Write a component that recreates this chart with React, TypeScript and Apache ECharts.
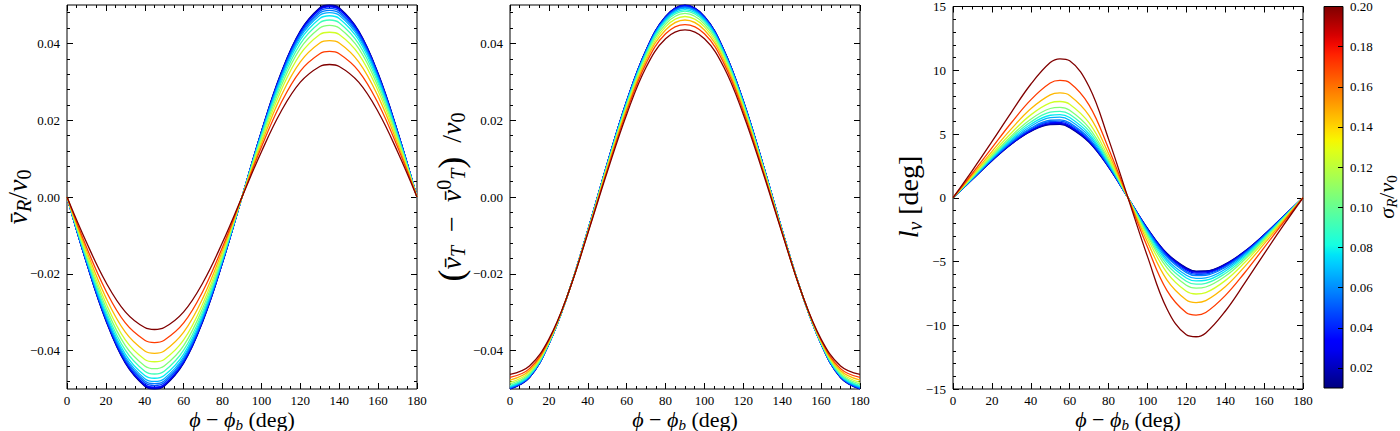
import React, { useEffect, useRef } from "react";
import * as echarts from "echarts";

// ---------------- data ----------------
const sigmaValues = [0.01, 0.0188, 0.0257, 0.0353, 0.0483, 0.0566, 0.0663, 0.0776, 0.0909, 0.1064, 0.1246, 0.1459, 0.1708, 0.2];

const phiR = [0, 10, 20, 30, 40, 45, 50, 60, 70, 80, 90, 100, 110, 120, 130, 135, 140, 150, 160, 170, 180];
const phiT = [0, 10, 20, 30, 40, 50, 60, 70, 80, 90, 100, 110, 120, 130, 140, 150, 160, 170, 180];
const phiL = [0, 10, 20, 30, 40, 50, 55, 60, 70, 80, 90, 100, 110, 120, 125, 130, 140, 150, 160, 170, 180];

// mean radial velocity vR/v0, one row per sigma (low -> high)
const vR0 = [0, -.0171, -.0322, -.0433, -.0493, -.05, -.0493, -.0433, -.0322, -.0171, 0, .0171, .0322, .0433, .0493, .05, .0493, .0433, .0322, .0171, 0];
const vR1 = [0, -.017, -.032, -.0431, -.0491, -.0498, -.0491, -.0431, -.032, -.017, 0, .017, .032, .0431, .0491, .0498, .0491, .0431, .032, .017, 0];
const vR2 = [0, -.017, -.032, -.043, -.049, -.0497, -.049, -.043, -.032, -.017, 0, .017, .032, .043, .049, .0497, .049, .043, .032, .017, 0];
const vR3 = [0, -.0169, -.0318, -.0429, -.0488, -.0495, -.0488, -.0429, -.0318, -.0169, 0, .0169, .0318, .0429, .0488, .0495, .0488, .0429, .0318, .0169, 0];
const vR4 = [0, -.0168, -.0316, -.0425, -.0484, -.0491, -.0484, -.0425, -.0316, -.0168, 0, .0168, .0316, .0425, .0484, .0491, .0484, .0425, .0316, .0168, 0];
const vR5 = [0, -.0166, -.0312, -.0421, -.0479, -.0486, -.0479, -.0421, -.0312, -.0166, 0, .0166, .0312, .0421, .0479, .0486, .0479, .0421, .0312, .0166, 0];
const vR6 = [0, -.0164, -.0309, -.0416, -.0473, -.048, -.0473, -.0416, -.0309, -.0164, 0, .0164, .0309, .0416, .0473, .048, .0473, .0416, .0309, .0164, 0];
const vR7 = [0, -.0161, -.0303, -.0409, -.0465, -.0472, -.0465, -.0409, -.0303, -.0161, 0, .0161, .0303, .0409, .0465, .0472, .0465, .0409, .0303, .0161, 0];
const vR8 = [0, -.0158, -.0296, -.0399, -.0454, -.0461, -.0454, -.0399, -.0296, -.0158, 0, .0158, .0296, .0399, .0454, .0461, .0454, .0399, .0296, .0158, 0];
const vR9 = [0, -.0153, -.0287, -.0387, -.044, -.0447, -.044, -.0387, -.0287, -.0153, 0, .0153, .0287, .0387, .044, .0447, .044, .0387, .0287, .0153, 0];
const vR10 = [0, -.0147, -.0276, -.0372, -.0423, -.0429, -.0423, -.0372, -.0276, -.0147, 0, .0147, .0276, .0372, .0423, .0429, .0423, .0372, .0276, .0147, 0];
const vR11 = [0, -.0139, -.0262, -.0352, -.0401, -.0407, -.0401, -.0352, -.0262, -.0139, 0, .0139, .0262, .0352, .0401, .0407, .0401, .0352, .0262, .0139, 0];
const vR12 = [0, -.013, -.0244, -.0328, -.0373, -.0379, -.0373, -.0328, -.0244, -.013, 0, .013, .0244, .0328, .0373, .0379, .0373, .0328, .0244, .013, 0];
const vR13 = [0, -.0118, -.0222, -.0299, -.034, -.0345, -.034, -.0299, -.0222, -.0118, 0, .0118, .0222, .0299, .034, .0345, .034, .0299, .0222, .0118, 0];
const vRRows = [vR0, vR1, vR2, vR3, vR4, vR5, vR6, vR7, vR8, vR9, vR10, vR11, vR12, vR13];

// mean tangential velocity offset (vT - vT0)/v0
const vT0 = [-.05, -.047, -.0383, -.025, -.0087, .0087, .025, .0383, .047, .05, .047, .0383, .025, .0087, -.0087, -.025, -.0383, -.047, -.05];
const vT1 = [-.05, -.047, -.0383, -.025, -.0087, .0087, .025, .0383, .0469, .0499, .0469, .0383, .025, .0087, -.0087, -.025, -.0383, -.047, -.05];
const vT2 = [-.0499, -.0469, -.0383, -.025, -.0087, .0087, .0249, .0382, .0469, .0499, .0469, .0382, .0249, .0087, -.0087, -.025, -.0383, -.0469, -.0499];
const vT3 = [-.0499, -.0469, -.0382, -.025, -.0087, .0086, .0249, .0381, .0468, .0498, .0468, .0381, .0249, .0086, -.0087, -.025, -.0382, -.0469, -.0499];
const vT4 = [-.0498, -.0468, -.0382, -.025, -.0088, .0086, .0248, .038, .0467, .0496, .0467, .038, .0248, .0086, -.0088, -.025, -.0382, -.0468, -.0498];
const vT5 = [-.0497, -.0467, -.0382, -.025, -.0088, .0085, .0247, .0379, .0465, .0494, .0465, .0379, .0247, .0085, -.0088, -.025, -.0382, -.0467, -.0497];
const vT6 = [-.0495, -.0466, -.0381, -.025, -.0088, .0084, .0245, .0377, .0463, .0492, .0463, .0377, .0245, .0084, -.0088, -.025, -.0381, -.0466, -.0495];
const vT7 = [-.0493, -.0465, -.0381, -.025, -.0088, .0083, .0244, .0375, .046, .0488, .046, .0375, .0244, .0083, -.0088, -.025, -.0381, -.0465, -.0493];
const vT8 = [-.0491, -.0463, -.038, -.025, -.0089, .0082, .0241, .0372, .0456, .0484, .0456, .0372, .0241, .0082, -.0089, -.025, -.038, -.0463, -.0491];
const vT9 = [-.0487, -.046, -.0379, -.025, -.009, .008, .0238, .0368, .045, .0478, .045, .0368, .0238, .008, -.009, -.025, -.0379, -.046, -.0487];
const vT10 = [-.0483, -.0456, -.0377, -.025, -.0091, .0077, .0234, .0362, .0443, .047, .0443, .0362, .0234, .0077, -.0091, -.025, -.0377, -.0456, -.0483];
const vT11 = [-.0477, -.0452, -.0375, -.025, -.0092, .0074, .0229, .0356, .0435, .0461, .0435, .0356, .0229, .0074, -.0092, -.025, -.0375, -.0452, -.0477];
const vT12 = [-.047, -.0447, -.0373, -.025, -.0093, .007, .0223, .0348, .0425, .0449, .0425, .0348, .0223, .007, -.0093, -.025, -.0373, -.0447, -.047];
const vT13 = [-.0462, -.044, -.037, -.025, -.0095, .0065, .0215, .0338, .0412, .0435, .0412, .0338, .0215, .0065, -.0095, -.025, -.037, -.044, -.0462];
const vTRows = [vT0, vT1, vT2, vT3, vT4, vT5, vT6, vT7, vT8, vT9, vT10, vT11, vT12, vT13];

// vertex deviation l_v (deg)
const lv0 = [0, 1.45, 2.9, 4.2, 5.2, 5.74, 5.75, 5.5, 4.35, 2.4, 0, -2.4, -4.35, -5.5, -5.75, -5.74, -5.2, -4.2, -2.9, -1.45, 0];
const lv1 = [0, 1.46, 2.91, 4.22, 5.23, 5.78, 5.79, 5.54, 4.39, 2.42, 0, -2.42, -4.39, -5.54, -5.79, -5.78, -5.23, -4.22, -2.91, -1.46, 0];
const lv2 = [0, 1.46, 2.93, 4.24, 5.26, 5.82, 5.84, 5.59, 4.42, 2.44, 0, -2.44, -4.42, -5.59, -5.84, -5.82, -5.26, -4.24, -2.93, -1.46, 0];
const lv3 = [0, 1.47, 2.95, 4.28, 5.31, 5.89, 5.91, 5.66, 4.48, 2.47, 0, -2.47, -4.48, -5.66, -5.91, -5.89, -5.31, -4.28, -2.95, -1.47, 0];
const lv4 = [0, 1.49, 2.98, 4.33, 5.39, 5.98, 6.01, 5.76, 4.57, 2.51, 0, -2.51, -4.57, -5.76, -6.01, -5.98, -5.39, -4.33, -2.98, -1.49, 0];
const lv5 = [0, 1.5, 3.01, 4.38, 5.46, 6.08, 6.11, 5.87, 4.66, 2.55, 0, -2.55, -4.66, -5.87, -6.11, -6.08, -5.46, -4.38, -3.01, -1.5, 0];
const lv6 = [0, 1.53, 3.07, 4.48, 5.61, 6.28, 6.32, 6.08, 4.83, 2.64, 0, -2.64, -4.83, -6.08, -6.32, -6.28, -5.61, -4.48, -3.07, -1.53, 0];
const lv7 = [0, 1.56, 3.13, 4.58, 5.76, 6.47, 6.52, 6.29, 5, 2.73, 0, -2.73, -5, -6.29, -6.52, -6.47, -5.76, -4.58, -3.13, -1.56, 0];
const lv8 = [0, 1.59, 3.2, 4.7, 5.94, 6.71, 6.78, 6.55, 5.22, 2.84, 0, -2.84, -5.22, -6.55, -6.78, -6.71, -5.94, -4.7, -3.2, -1.59, 0];
const lv9 = [0, 1.63, 3.29, 4.85, 6.16, 7, 7.09, 6.87, 5.48, 2.97, 0, -2.97, -5.48, -6.87, -7.09, -7, -6.16, -4.85, -3.29, -1.63, 0];
const lv10 = [0, 1.7, 3.43, 5.08, 6.5, 7.44, 7.55, 7.34, 5.87, 3.17, 0, -3.17, -5.87, -7.34, -7.55, -7.44, -6.5, -5.08, -3.43, -1.7, 0];
const lv11 = [0, 1.79, 3.62, 5.4, 6.98, 8.07, 8.22, 8.02, 6.44, 3.46, 0, -3.46, -6.44, -8.02, -8.22, -8.07, -6.98, -5.4, -3.62, -1.79, 0];
const lv12 = [0, 1.92, 3.91, 5.88, 7.68, 9, 9.2, 9.02, 7.27, 3.87, 0, -3.87, -7.27, -9.02, -9.2, -9, -7.68, -5.88, -3.91, -1.92, 0];
const lv13 = [0, 2.15, 4.4, 6.7, 8.9, 10.6, 10.9, 10.75, 8.7, 4.6, 0, -4.6, -8.7, -10.75, -10.9, -10.6, -8.9, -6.7, -4.4, -2.15, 0];
const lvRows = [lv0, lv1, lv2, lv3, lv4, lv5, lv6, lv7, lv8, lv9, lv10, lv11, lv12, lv13];

// tick values
const velMajorTicks = [-0.04, -0.02, 0, 0.02, 0.04];
const velMinorTicks = [-0.048, -0.044, -0.036, -0.032, -0.028, -0.024, -0.016, -0.012, -0.008, -0.004, 0.004, 0.008, 0.012, 0.016, 0.024, 0.028, 0.032, 0.036, 0.044, 0.048];
const colorbarTicks = [0.02, 0.04, 0.06, 0.08, 0.1, 0.12, 0.14, 0.16, 0.18, 0.2];
const sigmaMin = 0.01;
const sigmaMax = 0.2;

// ---------------- styling helpers ----------------
const SERIF = "'Liberation Serif', 'DejaVu Serif', serif";
const TICK_FONT = 13;

type Seg = number[][];
const JET_R: Seg = [[0, 0], [0.35, 0], [0.66, 1], [0.89, 1], [1, 0.5]];
const JET_G: Seg = [[0, 0], [0.125, 0], [0.375, 1], [0.64, 1], [0.91, 0], [1, 0]];
const JET_B: Seg = [[0, 0.5], [0.11, 1], [0.34, 1], [0.65, 0], [1, 0]];
function seg(s: Seg, t: number) {
  for (let i = 1; i < s.length; i++) {
    if (t <= s[i][0]) {
      const [x0, y0] = s[i - 1];
      const [x1, y1] = s[i];
      return y0 + ((t - x0) / (x1 - x0)) * (y1 - y0);
    }
  }
  return s[s.length - 1][1];
}
function jet(t: number) {
  const c = Math.max(0, Math.min(1, t));
  const r = Math.round(seg(JET_R, c) * 255);
  const g = Math.round(seg(JET_G, c) * 255);
  const b = Math.round(seg(JET_B, c) * 255);
  return `rgb(${r},${g},${b})`;
}
const sigmaColor = (s: number) => jet((s - sigmaMin) / (sigmaMax - sigmaMin));

const minus = (s: string) => s.replace("-", "\u2212");
const fmtVel = (v: number) => minus(Math.abs(v) < 1e-9 ? "0.00" : v.toFixed(2));
const fmtInt = (v: number) => minus(String(Math.round(v)));

function makeRich(F: number) {
  const base = { fontFamily: SERIF, color: "#000" };
  const lh = Math.round(F * 1.2);
  return {
    m: { ...base, fontStyle: "italic", fontSize: F, lineHeight: lh, verticalAlign: "middle" },
    r: { ...base, fontSize: F, lineHeight: lh, verticalAlign: "middle" },
    s: { ...base, fontStyle: "italic", fontSize: Math.round(F * 0.7), lineHeight: Math.round(F * 0.75), verticalAlign: "bottom" },
    sr: { ...base, fontSize: Math.round(F * 0.7), lineHeight: Math.round(F * 0.75), verticalAlign: "bottom" },
    p: { ...base, fontSize: Math.round(F * 0.7), lineHeight: Math.round(F * 0.75), verticalAlign: "top" },
    big: { ...base, fontSize: Math.round(F * 1.3), lineHeight: lh, verticalAlign: "middle" },
  };
}

const PANEL_LEFT = [67, 510, 953];
const PANEL_TOP = 5;
const PANEL_W = 350;
const PANEL_H = 384;

function buildOption() {
  const grid: any[] = [];
  const xAxis: any[] = [];
  const yAxis: any[] = [];
  const series: any[] = [];
  const tickLine = { color: "#000", width: 1 };
  const labelStyle = { color: "#000", fontSize: TICK_FONT, fontFamily: SERIF };
  const noLine = { show: false, onZero: false };

  const addX = (g: number, position: string, showLabel: boolean) => {
    xAxis.push({
      type: "value", gridIndex: g, position, min: 0, max: 180, interval: 20,
      axisLine: noLine, splitLine: { show: false },
      axisTick: { show: true, inside: true, length: 6, lineStyle: tickLine },
      minorTick: { show: true, splitNumber: 4, length: 3, lineStyle: tickLine },
      axisLabel: { show: showLabel, margin: 5, ...labelStyle },
    });
    return xAxis.length - 1;
  };
  const addYVel = (g: number, position: string, showLabel: boolean) => {
    yAxis.push({
      type: "value", gridIndex: g, position, min: -0.05, max: 0.05, interval: 0.01,
      axisLine: noLine, splitLine: { show: false },
      axisTick: { show: true, inside: true, length: 6, customValues: velMajorTicks, lineStyle: tickLine },
      axisLabel: { show: showLabel, customValues: velMajorTicks, formatter: fmtVel, margin: 7, ...labelStyle },
    });
    const main = yAxis.length - 1;
    yAxis.push({
      type: "value", gridIndex: g, position, min: -0.05, max: 0.05, interval: 0.01,
      axisLine: noLine, splitLine: { show: false },
      axisTick: { show: true, inside: true, length: 3, customValues: velMinorTicks, lineStyle: tickLine },
      axisLabel: { show: false },
    });
    return main;
  };
  const addYLv = (g: number, position: string, showLabel: boolean) => {
    yAxis.push({
      type: "value", gridIndex: g, position, min: -15, max: 15, interval: 5,
      axisLine: noLine, splitLine: { show: false },
      axisTick: { show: true, inside: true, length: 6, lineStyle: tickLine },
      minorTick: { show: true, splitNumber: 5, length: 3, lineStyle: tickLine },
      axisLabel: { show: showLabel, formatter: fmtInt, margin: 7, ...labelStyle },
    });
    return yAxis.length - 1;
  };

  const panels = [
    { phi: phiR, rows: vRRows, kind: "vel" },
    { phi: phiT, rows: vTRows, kind: "vel" },
    { phi: phiL, rows: lvRows, kind: "lv" },
  ];

  panels.forEach((p, gi) => {
    grid.push({
      left: PANEL_LEFT[gi], top: PANEL_TOP, width: PANEL_W, height: PANEL_H,
      show: true, borderColor: "#000", borderWidth: 1, backgroundColor: "transparent",
    });
    const xi = addX(gi, "bottom", true);
    addX(gi, "top", false);
    let yi: number;
    if (p.kind === "vel") {
      yi = addYVel(gi, "left", true);
      addYVel(gi, "right", false);
    } else {
      yi = addYLv(gi, "left", true);
      addYLv(gi, "right", false);
    }
    p.rows.forEach((row, k) => {
      series.push({
        type: "line",
        name: `s${gi}_${k}`,
        xAxisIndex: xi,
        yAxisIndex: yi,
        data: p.phi.map((x, j) => [x, row[j]]),
        smooth: 0.4,
        showSymbol: false,
        symbol: "none",
        silent: true,
        lineStyle: { width: 1.3, color: sigmaColor(sigmaValues[k]) },
        z: 2 + k * 0.01,
      });
    });
  });

  // colorbar
  grid.push({ left: 1324, top: 6, width: 19, height: 382, show: false });
  const cbX = xAxis.length;
  xAxis.push({ type: "value", gridIndex: 3, min: 0, max: 1, show: false });
  const cbY = yAxis.length;
  yAxis.push({
    type: "value", gridIndex: 3, position: "right", min: sigmaMin, max: sigmaMax,
    axisLine: noLine, splitLine: { show: false },
    axisTick: { show: true, inside: true, length: 5, customValues: colorbarTicks, lineStyle: tickLine },
    axisLabel: { show: true, customValues: colorbarTicks, formatter: (v: number) => v.toFixed(2), margin: 7, ...labelStyle },
  });
  const stops: any[] = [];
  for (let i = 0; i <= 40; i++) stops.push({ offset: i / 40, color: jet(1 - i / 40) });
  series.push({
    type: "custom",
    xAxisIndex: cbX,
    yAxisIndex: cbY,
    silent: true,
    z: -1,
    data: [[0, sigmaMin]],
    renderItem: (_params: any, api: any) => {
      const tl = api.coord([0, sigmaMax]);
      const br = api.coord([1, sigmaMin]);
      return {
        type: "rect",
        shape: { x: tl[0], y: tl[1], width: br[0] - tl[0], height: br[1] - tl[1] },
        style: { fill: new echarts.graphic.LinearGradient(0, 0, 0, 1, stops), stroke: "#000", lineWidth: 1 },
      };
    },
  });

  const richX = makeRich(22);
  const richY = makeRich(28);
  const richC = makeRich(22);
  const xLabel = "{m|\u03d5}{r| \u2212 }{m|\u03d5}{s|b}{r| (deg)}";
  const graphic: any[] = [];
  PANEL_LEFT.forEach((l) => {
    graphic.push({
      type: "text", x: l + PANEL_W / 2, y: 419,
      style: { text: xLabel, rich: richX, align: "center", verticalAlign: "middle" },
    });
  });
  const yLabels = [
    { x: 17, text: "{m|v\u0304}{s|R}{r|/}{m|v}{sr|0}", rich: richY },
    { x: 451, text: "{big|(}{m|v\u0304}{s|T}{r|  \u2212  }{m|v\u0304}{p|0}{s|T}{big|)}{r|  /}{m|v}{sr|0}", rich: richY },
    { x: 908, text: "{m|l}{s|v}{r| [deg]}", rich: richY },
    { x: 1386, text: "{m|\u03c3}{s|R}{r|/}{m|v}{sr|0}", rich: richC },
  ];
  yLabels.forEach((yl) => {
    graphic.push({
      type: "text", x: yl.x, y: PANEL_TOP + PANEL_H / 2, rotation: Math.PI / 2,
      style: { text: yl.text, rich: yl.rich, align: "center", verticalAlign: "middle" },
    });
  });

  return {
    animation: false,
    backgroundColor: "#fff",
    grid, xAxis, yAxis, series, graphic,
  };
}

export default function App() {
  const ref = useRef<HTMLDivElement>(null);
  useEffect(() => {
    if (!ref.current) return;
    const chart = echarts.init(ref.current, null, { renderer: "svg" });
    chart.setOption(buildOption() as any);
    return () => chart.dispose();
  }, []);
  return (
    <div
      ref={ref}
      style={{ position: "fixed", left: 0, top: 0, width: 1400, height: 431, background: "#fff" }}
    />
  );
}
